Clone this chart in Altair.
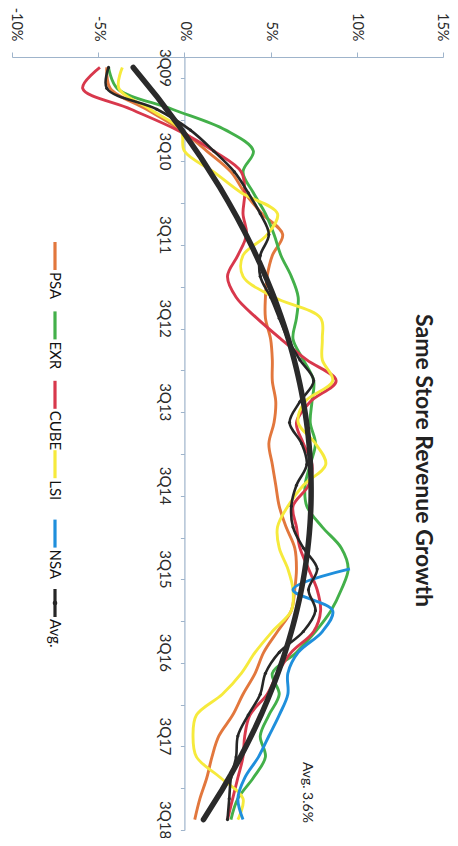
import json
import altair as alt
import pandas as pd

# ---------------- data ----------------
quarters = ["3Q09", "4Q09", "1Q10", "2Q10", "3Q10", "4Q10", "1Q11", "2Q11", "3Q11",
            "4Q11", "1Q12", "2Q12", "3Q12", "4Q12", "1Q13", "2Q13", "3Q13", "4Q13",
            "1Q14", "2Q14", "3Q14", "4Q14", "1Q15", "2Q15", "3Q15", "4Q15", "1Q16",
            "2Q16", "3Q16", "4Q16", "1Q17", "2Q17", "3Q17", "4Q17", "1Q18", "2Q18", "3Q18"]

psa = [-4.5, -4.3, -2.2, -0.2, 1.3, 2.7, 3.5, 4.5, 5.7, 5.1, 4.8, 4.7, 4.7, 5.0, 5.1, 5.1,
       5.3, 5.2, 4.9, 5.1, 5.3, 5.5, 5.9, 6.4, 6.5, 6.4, 6.2, 5.4, 4.6, 4.1, 3.4, 2.8,
       2.0, 1.6, 1.3, 0.9, 0.6]
exr = [-4.4, -3.9, -0.7, 2.4, 4.0, 3.4, 4.0, 4.7, 5.2, 5.6, 6.2, 6.6, 6.5, 6.3, 6.9, 7.5,
       7.4, 7.3, 7.6, 7.3, 7.0, 7.1, 8.0, 9.1, 9.5, 9.1, 8.5, 7.6, 6.5, 5.1, 5.5, 4.9,
       4.4, 4.7, 4.0, 3.1, 2.7]
cube = [-4.9, -5.9, -3.1, -0.4, 1.7, 3.3, 3.5, 3.4, 3.6, 3.1, 2.5, 3.0, 4.2, 5.6, 7.1, 8.8,
        7.3, 6.5, 6.9, 7.4, 7.2, 6.3, 6.5, 6.7, 7.2, 7.7, 7.9, 7.5, 6.2, 5.4, 4.8, 3.8,
        3.5, 3.4, 3.1, 2.8, 2.5]
lsi = [-3.6, -3.8, -2.0, -0.2, 0.0, 1.7, 3.3, 5.4, 4.8, 3.4, 3.4, 5.2, 7.9, 8.0, 8.0, 8.6,
       7.0, 6.6, 7.6, 8.2, 6.9, 6.0, 5.4, 5.5, 6.0, 6.3, 6.2, 5.1, 4.1, 3.3, 2.2, 0.7,
       0.5, 0.7, 2.1, 3.4, 3.1]
nsa = [None] * 24 + [9.6, 6.3, 8.6, 8.0, 6.6, 6.0, 6.0, 5.5, 4.9, 4.3, 3.5, 3.1, 3.4]
avg = [-4.4, -4.5, -1.6, 0.35, 1.7, 2.9, 3.7, 4.4, 4.9, 4.4, 4.4, 5.0, 5.5, 6.0, 6.7, 7.5,
       6.7, 6.1, 6.8, 7.1, 6.5, 6.2, 6.3, 6.9, 7.7, 7.2, 7.6, 6.9, 5.5, 4.7, 4.4, 3.7,
       3.1, 3.0, 2.7, 2.6, 2.5]

series_names = ["PSA", "EXR", "CUBE", "LSI", "NSA", "Avg."]
series_colors = ["#e2773d", "#43b04a", "#d8384c", "#f6ea3c", "#1f8fdc", "#262626"]
value_ticks = [-10, -5, 0, 5, 10, 15]
title_text = "Same Store Revenue Growth"
annotation_text = "Avg. 3.6%"

# ---------------- tables ----------------
rows = []
for name, vals in zip(series_names[:5], [psa, exr, cube, lsi, nsa]):
    for i, (q, v) in enumerate(zip(quarters, vals)):
        if v is not None:
            rows.append({"series": name, "idx": i, "quarter": q, "val": v})
comp_df = pd.DataFrame(rows)
avg_df = pd.DataFrame({"series": "Avg.", "idx": list(range(len(quarters))),
                       "quarter": quarters, "val": avg})
legend_df = pd.DataFrame({"series": series_names})
annot_df = pd.DataFrame({"label": [annotation_text]})

# ---------------- layout ----------------
W, H = 431, 773
band = H / len(quarters)
FONT = "Lato"
AXIS_COLOR = "#9fb4cb"

x_scale = alt.Scale(domain=[-10, 15], nice=False, zero=False)
y_scale = alt.Scale(domain=[-0.5, len(quarters) - 0.5], reverse=True, nice=False, zero=False)
color_scale = alt.Scale(domain=series_names, range=series_colors)

x_axis = alt.Axis(orient="top", values=value_ticks, labelExpr="datum.value + '%'",
                  labelAngle=90, labelAlign="right", labelBaseline="middle",
                  labelOffset={"condition": [{"test": "datum.value == -10", "value": 3},
                                             {"test": "datum.value == 15", "value": -2}],
                               "value": 0},
                  tickSize=5, labelPadding=11, grid=False, title=None,
                  domainColor=AXIS_COLOR, tickColor=AXIS_COLOR, domainWidth=1.2,
                  labelFont=FONT, labelFontSize=14.5, labelColor="#2b2b2b")
y_axis = alt.Axis(orient="left", offset=-W * 10 / 25, values=list(range(len(quarters))),
                  tickOffset=band / 2, labelOffset=-band / 2,
                  labelExpr="datum.value % 4 == 0 ? " + json.dumps(quarters) + "[datum.value] : ''",
                  labelAngle=90, labelAlign="center", labelBaseline="top",
                  tickSize=4, labelPadding=9, grid=False, title=None,
                  domainColor=AXIS_COLOR, tickColor=AXIS_COLOR, domainWidth=1.2,
                  labelFont=FONT, labelFontSize=15, labelColor="#2b2b2b", labelOverlap=False)

X = alt.X("val:Q", scale=x_scale, axis=x_axis)
Y = alt.Y("idx:Q", scale=y_scale, axis=y_axis)
C = alt.Color("series:N", scale=color_scale, legend=None)

lines = alt.Chart(comp_df).mark_line(interpolate="catmull-rom", strokeWidth=2.9).encode(
    x=X, y=Y, color=C, order=alt.Order("idx:Q"))

avg_line = alt.Chart(avg_df).mark_line(
    interpolate="catmull-rom", strokeWidth=2.6,
    point=alt.OverlayMarkDef(size=10, filled=True, color="#262626")).encode(
    x=X, y=Y, color=C, order=alt.Order("idx:Q"))

trend = alt.Chart(avg_df).transform_regression(
    "idx", "val", method="poly", order=2).mark_line(
    strokeWidth=5.5, color="#2a2a2a", strokeCap="round").encode(
    x=X, y=Y, order=alt.Order("idx:Q"))

annot = alt.Chart(annot_df).mark_text(angle=90, font=FONT, fontSize=14, color="#222222",
                                      align="center", baseline="middle").encode(
    x=alt.datum(7.1), y=alt.datum(34.7), text="label:N")

main = alt.layer(lines, avg_line, trend, annot)

leg_y = alt.Y("series:N", sort=series_names,
              scale=alt.Scale(type="point", range=[199, 546], padding=0), axis=None)
leg_sym = alt.Chart(legend_df).mark_point(shape="stroke", angle=90, size=784, strokeWidth=3.2,
                                          filled=False, opacity=1).encode(
    x=alt.value(43), y=leg_y, color=C)
leg_dot = alt.Chart(legend_df).transform_filter("datum.series == 'Avg.'").mark_point(
    shape="circle", size=22, filled=True, opacity=1, color="#262626").encode(
    x=alt.value(43), y=leg_y)
leg_txt = alt.Chart(legend_df).mark_text(angle=90, align="left", baseline="middle", dx=16,
                                         font=FONT, fontSize=15, color="#111111").encode(
    x=alt.value(43), y=leg_y, text="series:N")
legend = alt.layer(leg_sym, leg_dot, leg_txt)

chart = alt.layer(main, legend).resolve_scale(y="independent").properties(
    width=W, height=H,
    title=alt.TitleParams(text=title_text, orient="right", angle=90, anchor="middle",
                          frame="group", baseline="bottom", offset=-61, dx=17,
                          font=FONT, fontSize=23, fontWeight="bold", color="#222222"),
    autosize=alt.AutoSizeParams(type="none"),
    padding={"left": 4, "top": 49, "right": 7, "bottom": 8},
).configure_view(stroke=None)

chart.save("out.html", embed_options={"renderer": "svg", "actions": False})
